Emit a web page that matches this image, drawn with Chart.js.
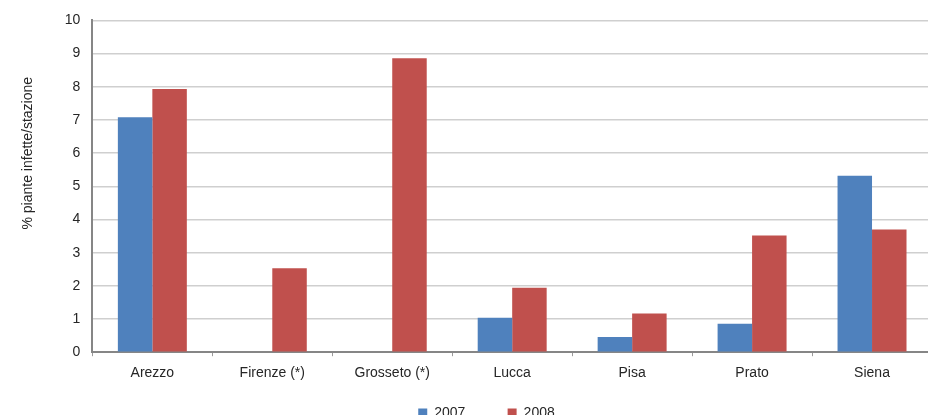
<!DOCTYPE html>
<html>
<head>
<meta charset="utf-8">
<script src="https://cdn.jsdelivr.net/npm/chart.js@4/dist/chart.umd.min.js"></script>
<style>
  html, body { margin: 0; padding: 0; background: #fff; overflow: hidden; }
  #wrap { position: absolute; left: 0; top: 0; width: 968px; height: 430px; }
</style>
</head>
<body>
<div id="wrap"><canvas id="chart"></canvas></div>
<script>
const categories = ['Arezzo', 'Firenze (*)', 'Grosseto (*)', 'Lucca', 'Pisa', 'Prato', 'Siena'];
const seriesNames = ['2007', '2008'];
const values2007 = [7.08, 0, 0, 1.04, 0.46, 0.86, 5.32];
const values2008 = [7.93, 2.53, 8.86, 1.94, 1.17, 3.52, 3.7];
const yTicks = [0, 1, 2, 3, 4, 5, 6, 7, 8, 9, 10];

const fontFamily = '"Liberation Sans", Arial, sans-serif';
const textColor = '#262626';

const ctx = document.getElementById('chart');
const chart = new Chart(ctx, {
    type: 'bar',
    data: {
        labels: categories,
        datasets: [
            { label: seriesNames[0], data: values2007, backgroundColor: '#4F81BD', borderWidth: 0 },
            { label: seriesNames[1], data: values2008, backgroundColor: '#C0504D', borderWidth: 0 }
        ]
    },
    options: {
        responsive: true,
        maintainAspectRatio: false,
        animation: false,
        // wide left padding centres the legend like the original; the title pad pulls the axis back
        layout: { padding: { left: 41, right: 36, top: 15, bottom: 0 } },
        datasets: {
            bar: { categoryPercentage: 0.575, barPercentage: 1.0 }
        },
        scales: {
            x: {
                offset: true,
                grid: {
                    offset: true,
                    drawOnChartArea: false,
                    drawTicks: true,
                    tickLength: 4,
                    color: '#9a9a9a'
                },
                border: { color: '#868686', width: 2 },
                ticks: {
                    color: textColor,
                    font: { family: fontFamily, size: 14 },
                    padding: 9,
                    maxRotation: 0,
                    autoSkip: false
                }
            },
            y: {
                min: 0,
                max: 10,
                afterBuildTicks: (axis) => { axis.ticks = yTicks.map(v => ({ value: v })); },
                grid: {
                    color: '#cfcfcf',
                    lineWidth: 1.5,
                    drawTicks: false
                },
                border: { color: '#868686', width: 2 },
                ticks: {
                    color: textColor,
                    font: { family: fontFamily, size: 14 },
                    padding: 12
                },
                title: {
                    display: true,
                    // leading spaces push the label up, as in the original
                    text: ' '.repeat(17) + '% piante infette/stazione',
                    color: textColor,
                    font: { family: fontFamily, size: 14 },
                    padding: { top: -21, bottom: 16 }
                }
            }
        },
        plugins: {
            legend: {
                position: 'bottom',
                labels: {
                    color: textColor,
                    font: { family: fontFamily, size: 14 },
                    boxWidth: 9,
                    boxHeight: 9,
                    padding: 15,
                    generateLabels: (c) => Chart.defaults.plugins.legend.labels.generateLabels(c)
                        .map((item, i) => ({ ...item, text: i === 0 ? item.text + ' '.repeat(7) : item.text }))
                }
            },
            tooltip: { enabled: false }
        }
    }
});
</script>
</body>
</html>
